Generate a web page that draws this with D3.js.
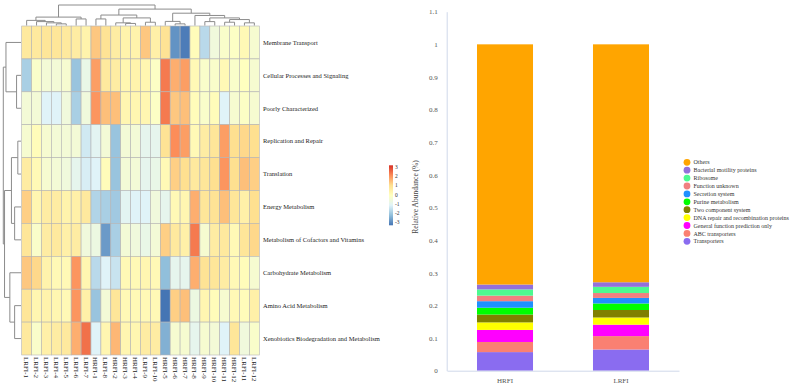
<!DOCTYPE html>
<html>
<head>
<meta charset="utf-8">
<script src="https://cdn.jsdelivr.net/npm/d3@7"></script>
<style>
  body { margin: 0; background: #fff; }
  text { font-family: "Liberation Serif", "Times New Roman", serif; }
</style>
</head>
<body>
<svg id="chart" width="790" height="389"></svg>
<script>
// heatmap data
const rowNames = ['Membrane Transport', 'Cellular Processes and Signaling', 'Poorly Characterized',
  'Replication and Repair', 'Translation', 'Energy Metabolism', 'Metabolism of Cofactors and Vitamins',
  'Carbohydrate Metabolism', 'Amino Acid Metabolism', 'Xenobiotics Biodegradation and Metabolism']
const colNames = ['LRFI-1', 'LRFI-2', 'LRFI-3', 'LRFI-4', 'LRFI-5', 'LRFI-6', 'LRFI-7', 'HRFI-1',
  'LRFI-8', 'HRFI-2', 'HRFI-3', 'HRFI-4', 'LRFI-9', 'LRFI-10', 'HRFI-5', 'HRFI-6', 'HRFI-7',
  'HRFI-8', 'HRFI-9', 'HRFI-10', 'HRFI-11', 'HRFI-12', 'LRFI-11', 'LRFI-12']
const heatValues = [
  [0.7, 0.7, 0.8, 0.8, 0.7, 0.6, 0.4, 1.3, 0.9, 0.6, 0.4, 0.4, 1.3, 0.5, 0.9, -2.6, -2.9, 0.1, -1.5, -0.5, -0.2, -0.1, 0.2, -0.3],
  [-1.7, -0.2, -0.4, -0.4, -0.3, -1.9, -0.7, 1.8, 0.7, 0.6, 0.3, 0.4, 0.3, -0.1, 2.2, 1.6, 1.8, 0.2, -0.2, -0.2, 0.2, -0.2, 0.0, -0.3],
  [-0.4, -0.4, -1.0, -1.0, -0.5, -1.7, -0.5, 1.9, 1.4, 1.4, 0.3, 0.3, 0.3, -0.1, 2.2, 1.3, 1.4, 0.1, -0.2, 0.1, -1.0, -0.3, -0.1, -0.3],
  [-0.3, 0.1, -0.3, -0.4, -0.4, -0.4, -1.2, -0.9, -0.4, -1.9, -0.4, -0.4, -0.8, -0.8, 0.9, 2.0, 1.8, 0.2, 0.6, 0.8, 1.8, 1.0, 1.1, 1.0],
  [0.6, 0.2, -0.3, -0.4, -0.5, -0.8, -1.1, -1.0, 0.1, -1.9, -0.4, -0.4, -0.8, -0.7, 0.2, 1.2, 1.0, 0.7, 0.8, 1.0, 1.9, 1.0, 1.4, 1.2],
  [1.2, 0.3, 0.6, 0.6, 0.4, 0.5, 0.7, -1.6, -1.7, -1.8, -0.9, -1.0, -1.0, -0.5, -0.8, 0.2, 0.3, 1.6, 0.8, 0.9, 1.4, 0.8, 0.5, 1.0],
  [0.8, -0.2, 0.6, 0.7, 0.5, 0.6, -0.5, -0.6, -2.5, -1.7, -0.4, -0.5, -0.7, -0.4, 1.2, 0.7, 0.5, 2.2, -0.3, 0.6, 0.7, 0.2, 0.8, 1.1],
  [1.3, 1.1, 0.4, 0.2, 0.2, 1.9, 0.3, -1.5, -1.0, -1.3, 0.2, 0.2, 0.3, 0.2, -2.0, -0.8, -0.8, 1.6, 0.9, 0.8, 0.6, 0.2, 0.1, -0.3],
  [0.8, 0.3, 0.4, 0.3, 0.2, 1.9, 0.5, -1.9, -0.4, 0.8, 0.2, 0.2, 0.2, 0.2, -3.0, 1.2, 1.4, -0.6, 0.3, 0.1, -0.3, 0.2, 0.1, 0.5],
  [0.7, -0.2, 0.5, 0.6, 0.7, 1.6, 2.3, -1.0, 0.3, 1.5, 0.3, 0.3, 0.6, 0.6, -2.2, -0.3, -0.3, -0.8, -0.3, -0.4, -1.0, 0.8, -0.5, -0.2]
]
// dendrograms: [height, left, right], leaves are 1-based positions
const rowTree = [10, [8.5, 1, [2.5, 2, 3]], [9.3, [5.4, [1.8, 4, 5], [3.6, 6, 7]], [6.3, 8, [3.6, 9, 10]]]]
const colTree = [10,
  [4.1, [2.5, 1, [1.9, 2, [1.3, 3, [0.8, 4, 5]]]], [3.2, 6, 7]],
  [8, [5.1, [3.2, 8, 9], [3.7, [1.3, 10, [1.0, 11, 12]], [1.6, 13, 14]]],
      [6, [2.0, 15, [0.8, 16, 17]], [4.9, 18, [3.7, [1.9, 19, 20], [2.9, [1.6, 21, 22], [1.3, 23, 24]]]]]]]
const legendTicks = [3, 2, 1, 0, -1, -2, -3]
const heatColors = ['#4575b4', '#91bfdb', '#e0f3f8', '#ffffbf', '#fee090', '#fc8d59', '#d73027']

// stacked bar data (bottom to top)
const groups = ['HRFI', 'LRFI']
const pathways = ['Transporters', 'ABC transporters', 'General function prediction only',
  'DNA repair and recombination proteins', 'Two component system', 'Purine metabolism',
  'Secretion system', 'Function unknown', 'Ribosome', 'Bacterial motility proteins', 'Others']
const hrfiValues = [0.057, 0.031, 0.037, 0.023, 0.024, 0.021, 0.020, 0.017, 0.019, 0.015, 0.736]
const lrfiValues = [0.065, 0.041, 0.035, 0.022, 0.023, 0.020, 0.017, 0.015, 0.019, 0.014, 0.729]
const pathwayColors = ['#8a6cf0', '#fa8072', '#ff00ff', '#ffff00', '#808000', '#00ff00',
  '#1e90ff', '#f08080', '#4dfa90', '#9370db', '#ffa500']
const yTicks = d3.range(0, 12).map(i => i / 10)

const svg = d3.select('#chart')

// ---------- heatmap ----------
const x = d3.scaleBand().domain(colNames).range([21.7, 259.3])
const y = d3.scaleBand().domain(rowNames).range([26, 355])
const color = d3.scaleLinear().domain([-3, -2, -1, 0, 1, 2, 3]).range(heatColors).clamp(true)

const cells = rowNames.flatMap((r, i) => colNames.map((c, j) => ({ r, c, v: heatValues[i][j] })))
svg.append('g').selectAll('rect')
  .data(cells)
  .join('rect')
  .attr('x', d => x(d.c))
  .attr('y', d => y(d.r))
  .attr('width', x.bandwidth())
  .attr('height', y.bandwidth())
  .attr('fill', d => color(d.v))
  .attr('stroke', '#b4b4b4')
  .attr('stroke-width', 0.6)

svg.append('g').selectAll('text')
  .data(rowNames)
  .join('text')
  .attr('x', 263)
  .attr('y', d => y(d) + y.bandwidth() / 2)
  .attr('dy', '0.35em')
  .attr('font-size', 6.5)
  .attr('fill', '#222')
  .text(d => d)

svg.append('g').selectAll('text')
  .data(colNames)
  .join('text')
  .attr('transform', d => `translate(${x(d) + x.bandwidth() / 2},357) rotate(90)`)
  .attr('dy', '0.35em')
  .attr('font-size', 7)
  .attr('fill', '#222')
  .text(d => d)

function draw_tree(tree, leaf_pos, h_pos, horizontal) {
  const root = d3.hierarchy(tree, d => Array.isArray(d) ? d.slice(1) : null)
  root.eachAfter(n => {
    if (n.children) { n.p = d3.mean(n.children, c => c.p); n.h = n.data[0] }
    else { n.p = leaf_pos(n.data); n.h = 0 }
  })
  const pt = (p, h) => horizontal ? `${h_pos(h)},${p}` : `${p},${h_pos(h)}`
  svg.append('g').selectAll('path')
    .data(root.descendants().filter(n => n.children))
    .join('path')
    .attr('d', n => {
      const [a, b] = n.children
      return `M${pt(a.p, a.h)}L${pt(a.p, n.h)}L${pt(b.p, n.h)}L${pt(b.p, b.h)}`
    })
    .attr('fill', 'none')
    .attr('stroke', '#8c8c8c')
    .attr('stroke-width', 1)
}

draw_tree(colTree, i => x(colNames[i - 1]) + x.bandwidth() / 2,
  d3.scaleLinear().domain([0, 10]).range([25.5, 5]), false)
draw_tree(rowTree, i => y(rowNames[i - 1]) + y.bandwidth() / 2,
  d3.scaleLinear().domain([0, 10]).range([21, 3.3]), true)

// colour key
const keyScale = d3.scaleLinear().domain([3, -3]).range([166.8, 222.5])
const grad = svg.append('defs').append('linearGradient')
  .attr('id', 'keygrad').attr('x1', 0).attr('x2', 0).attr('y1', 0).attr('y2', 1)
grad.selectAll('stop')
  .data(heatColors.slice().reverse())
  .join('stop')
  .attr('offset', (d, i) => i / (heatColors.length - 1))
  .attr('stop-color', d => d)
svg.append('rect')
  .attr('x', 389).attr('y', 165.3).attr('width', 4).attr('height', 60)
  .attr('fill', 'url(#keygrad)')
svg.append('g').selectAll('text')
  .data(legendTicks)
  .join('text')
  .attr('x', 395)
  .attr('y', d => keyScale(d))
  .attr('dy', '0.35em')
  .attr('font-size', 5.5)
  .attr('fill', '#333')
  .text(d => d)

// ---------- stacked bars ----------
const bx = d3.scaleBand().domain(groups).range([447, 679]).paddingInner(0.517).paddingOuter(0.2586)
const by = d3.scaleLinear().domain([0, 1.1]).range([370.7, 11.7])

const table = groups.map((g, gi) => {
  const row = { group: g }
  pathways.forEach((p, i) => { row[p] = (gi === 0 ? hrfiValues : lrfiValues)[i] })
  return row
})
const series = d3.stack().keys(pathways)(table)

svg.append('g').selectAll('g')
  .data(series)
  .join('g')
  .attr('fill', (d, i) => pathwayColors[i])
  .selectAll('rect')
  .data(d => d)
  .join('rect')
  .attr('x', d => bx(d.data.group))
  .attr('y', d => by(d[1]))
  .attr('width', bx.bandwidth())
  .attr('height', d => by(d[0]) - by(d[1]))

const yAxis = svg.append('g')
  .attr('transform', 'translate(446.7,0)')
  .call(d3.axisLeft(by).tickValues(yTicks).tickSize(0).tickPadding(9).tickFormat(d3.format('~g')))
yAxis.select('.domain').attr('stroke', '#cfd8ea')
yAxis.selectAll('text').attr('font-family', '"Liberation Serif", serif').attr('font-size', 7).attr('fill', '#555')

const xAxis = svg.append('g')
  .attr('transform', 'translate(0,370.7)')
  .call(d3.axisBottom(bx).tickSize(0).tickPadding(7))
xAxis.select('.domain').attr('stroke', '#cfd8ea')
xAxis.selectAll('text').attr('font-family', '"Liberation Serif", serif').attr('font-size', 7).attr('fill', '#555')

svg.append('text')
  .attr('transform', 'translate(418,197) rotate(-90)')
  .attr('text-anchor', 'middle')
  .attr('font-size', 7.5)
  .attr('fill', '#444')
  .text('Relative Abundance (%)')

// legend, top to bottom
const legendItems = pathways.map((p, i) => ({ p, c: pathwayColors[i] })).reverse()
const legend = svg.append('g').selectAll('g')
  .data(legendItems)
  .join('g')
  .attr('transform', (d, i) => `translate(687,${162.3 + i * 7.9})`)
legend.append('circle').attr('r', 3.4).attr('fill', d => d.c)
legend.append('text')
  .attr('x', 6.5)
  .attr('dy', '0.35em')
  .attr('font-size', 6)
  .attr('fill', '#333')
  .text(d => d.p)
</script>
</body>
</html>
